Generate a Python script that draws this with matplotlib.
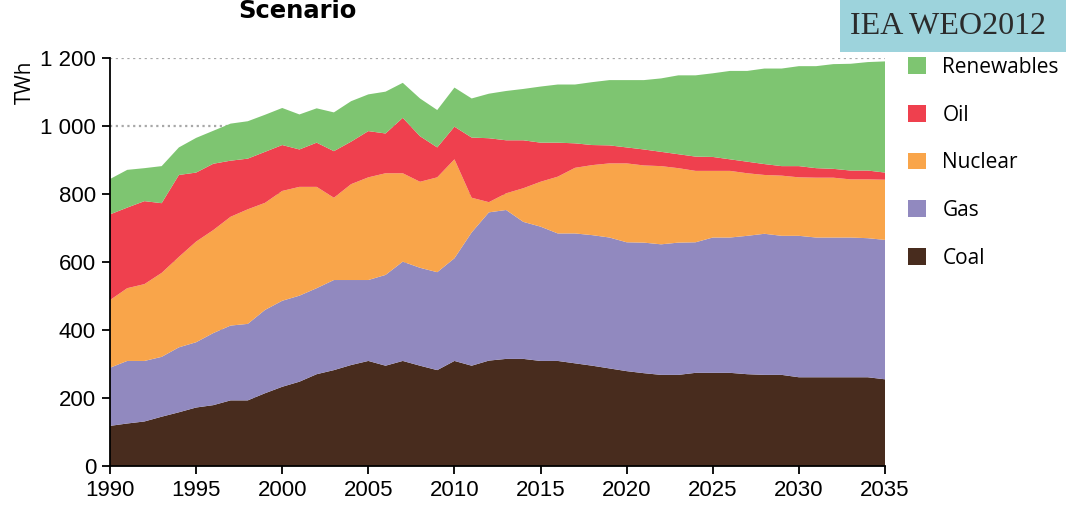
"""Stacked area of electricity generation by source, 1990-2035 (IEA WEO2012)."""
import matplotlib
matplotlib.use("Agg")
import matplotlib.pyplot as plt
from matplotlib.ticker import FuncFormatter, MultipleLocator
from matplotlib.patches import Patch, Rectangle

YEARS = list(range(1990, 2036))

COAL = [118, 125, 131, 145, 158, 172, 179, 193, 193, 214,
        233, 248, 270, 282, 297, 309, 295, 309, 295, 282,
        309, 295, 310, 315, 315, 309, 309, 302, 295, 287,
        279, 273, 268, 268, 274, 274, 274, 270, 268, 268,
        261, 261, 261, 261, 261, 255]
GAS = [171, 184, 178, 176, 191, 192, 212, 220, 225, 245,
       253, 253, 253, 265, 250, 238, 267, 292, 288, 288,
       302, 392, 436, 438, 403, 395, 375, 382, 384, 385,
       379, 384, 384, 389, 384, 398, 398, 407, 415, 409,
       416, 411, 411, 411, 409, 410]
NUCLEAR = [199, 214, 226, 247, 266, 296, 303, 320, 337, 315,
           323, 320, 298, 242, 282, 302, 299, 260, 253, 279,
           291, 102, 30, 49, 99, 132, 167, 193, 206, 218,
           232, 227, 230, 219, 210, 196, 196, 184, 173, 177,
           172, 176, 176, 171, 173, 177]
OIL = [252, 237, 244, 205, 241, 203, 195, 165, 149, 150,
       135, 110, 130, 137, 125, 136, 117, 163, 134, 88,
       96, 177, 188, 156, 141, 115, 100, 72, 59, 53,
       47, 47, 42, 41, 42, 41, 34, 34, 32, 28,
       33, 28, 26, 26, 26, 21]
RENEWABLES = [104, 111, 97, 109, 81, 102, 97, 109, 110, 109,
              109, 103, 101, 114, 119, 108, 123, 103, 111, 110,
              115, 115, 131, 145, 151, 165, 171, 173, 185, 192,
              198, 204, 216, 232, 239, 246, 260, 267, 281, 287,
              294, 300, 308, 314, 319, 327]

SERIES = ["Coal", "Gas", "Nuclear", "Oil", "Renewables"]
COLORS = ["#482c1e", "#9189bf", "#f9a54a", "#ef404e", "#7ec571"]

NUM_FONT = ["Liberation Sans", "DejaVu Sans"]
TXT_FONT = ["Open Sans", "DejaVu Sans"]


def _thousands(v, _pos):
    return f"{int(v):,}".replace(",", " ")


def main():
    fig = plt.figure(figsize=(10.66, 5.05), dpi=100)
    ax = fig.add_axes([110 / 1066, 39 / 505, 775 / 1066, 408 / 505])

    ax.stackplot(YEARS, COAL, GAS, NUCLEAR, OIL, RENEWABLES,
                 colors=COLORS, linewidth=0, zorder=2)

    ax.set_xlim(1990, 2035)
    ax.set_ylim(0, 1200)
    ax.xaxis.set_major_locator(MultipleLocator(5))
    ax.yaxis.set_major_locator(MultipleLocator(200))
    ax.yaxis.set_major_formatter(FuncFormatter(_thousands))
    ax.grid(axis="y", linestyle=(0, (1.0, 1.6)), color="#a8a8a8",
            linewidth=1.6, zorder=0)
    ax.set_axisbelow(True)
    for s in ("top", "right"):
        ax.spines[s].set_visible(False)
    for s in ("left", "bottom"):
        ax.spines[s].set_linewidth(1.3)
        ax.spines[s].set_zorder(3)
    ax.tick_params(direction="out", length=6, width=1.3, pad=4)
    for lab in ax.get_xticklabels() + ax.get_yticklabels():
        lab.set_family(NUM_FONT)
        lab.set_fontsize(16)

    fig.text(25 / 1066, 1 - 82 / 505, "TWh", rotation=90, ha="center",
             va="center", fontsize=15, family=TXT_FONT)
    fig.text(297 / 1066, 1 - 11 / 505, "Scenario", ha="center", va="center",
             fontsize=17.5, fontweight="bold", family=["DejaVu Sans"])

    # WEO tag in the top right corner
    fig.add_artist(Rectangle((840 / 1066, 1 - 52 / 505), 226 / 1066,
                             52 / 505, transform=fig.transFigure,
                             facecolor="#9dd3dc", edgecolor="none"))
    fig.text(948 / 1066, 1 - 27 / 505, "IEA WEO2012", ha="center",
             va="center", fontsize=23, color="#2b2b2b",
             family=["Liberation Serif", "DejaVu Serif"])

    handles = [Patch(facecolor=c, edgecolor="none", label=n)
               for n, c in zip(SERIES, COLORS)][::-1]
    fig.legend(handles=handles, loc="upper left",
               bbox_to_anchor=(908 / 1066, 1 - 57 / 505), frameon=False,
               handlelength=0.85, handleheight=0.85, handletextpad=0.8,
               labelspacing=1.28, borderpad=0, borderaxespad=0,
               prop=dict(family=TXT_FONT, size=15))

    fig.savefig("out.png", dpi=100)
    plt.close(fig)


if __name__ == "__main__":
    main()
